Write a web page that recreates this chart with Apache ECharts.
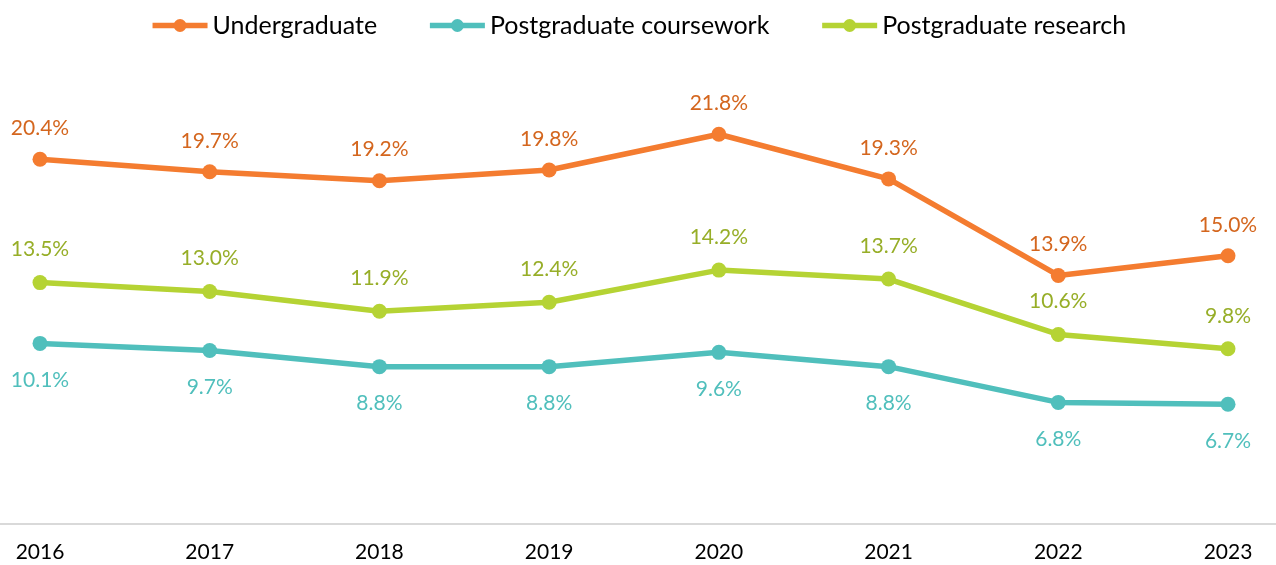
<!DOCTYPE html>
<html>
<head>
<meta charset="utf-8">
<script src="https://cdn.jsdelivr.net/npm/echarts@6/dist/echarts.min.js"></script>
<style>html,body{margin:0;padding:0;background:#fff}#c{width:1276px;height:565px}</style>
</head>
<body>
<div id="c"></div>
<script>
const years = ['2016','2017','2018','2019','2020','2021','2022','2023'];
const undergraduate = [20.4, 19.7, 19.2, 19.8, 21.8, 19.3, 13.9, 15.0];
const pgCoursework = [10.1, 9.7, 8.8, 8.8, 9.6, 8.8, 6.8, 6.7];
const pgResearch = [13.5, 13.0, 11.9, 12.4, 14.2, 13.7, 10.6, 9.8];

const FONT = 'Lato, "Noto Sans", sans-serif';
const chart = echarts.init(document.getElementById('c'));
function series(name, data, color, labelColor, pos, dist) {
  return {
    name, type: 'line', data,
    symbol: 'circle', symbolSize: 15,
    lineStyle: { width: 5.5, color },
    itemStyle: { color },
    label: {
      show: true, position: pos, distance: dist,
      color: labelColor, fontFamily: FONT, fontSize: 21,
      formatter: p => p.value.toFixed(1) + '%'
    },
    emphasis: { disabled: true }
  };
}
chart.setOption({
  animation: false,
  textStyle: { fontFamily: FONT },
  legend: {
    top: 8, left: 'center', itemWidth: 55, itemHeight: 16, itemGap: 50,
    lineStyle: { width: 5.5 },
    textStyle: { fontSize: 25, color: '#000', fontFamily: FONT },
    data: ['Undergraduate', 'Postgraduate coursework', 'Postgraduate research']
  },
  grid: { left: 40, right: 48, top: 77, bottom: 41 },
  xAxis: {
    type: 'category', data: years, boundaryGap: false,
    axisLine: { show: false }, axisTick: { show: false },
    axisLabel: { color: '#000', fontSize: 21, fontFamily: FONT, margin: 18 }
  },
  yAxis: { type: 'value', min: 0, max: 25, show: false, splitLine: { show: false } },
  series: [
    series('Undergraduate', undergraduate, '#F47C30', '#D4661E', 'top', 13),
    series('Postgraduate coursework', pgCoursework, '#50BFBC', '#50BFBC', 'bottom', 19),
    series('Postgraduate research', pgResearch, '#B5D334', '#97AE28', 'top', 15)
  ]
});
const y0 = chart.convertToPixel({ yAxisIndex: 0 }, 0);
chart.setOption({
  graphic: [{ type: 'line', shape: { x1: 0, y1: y0, x2: 1276, y2: y0 }, style: { stroke: '#D9D9D9', lineWidth: 2 }, z: 0 }]
});
</script>
</body>
</html>
